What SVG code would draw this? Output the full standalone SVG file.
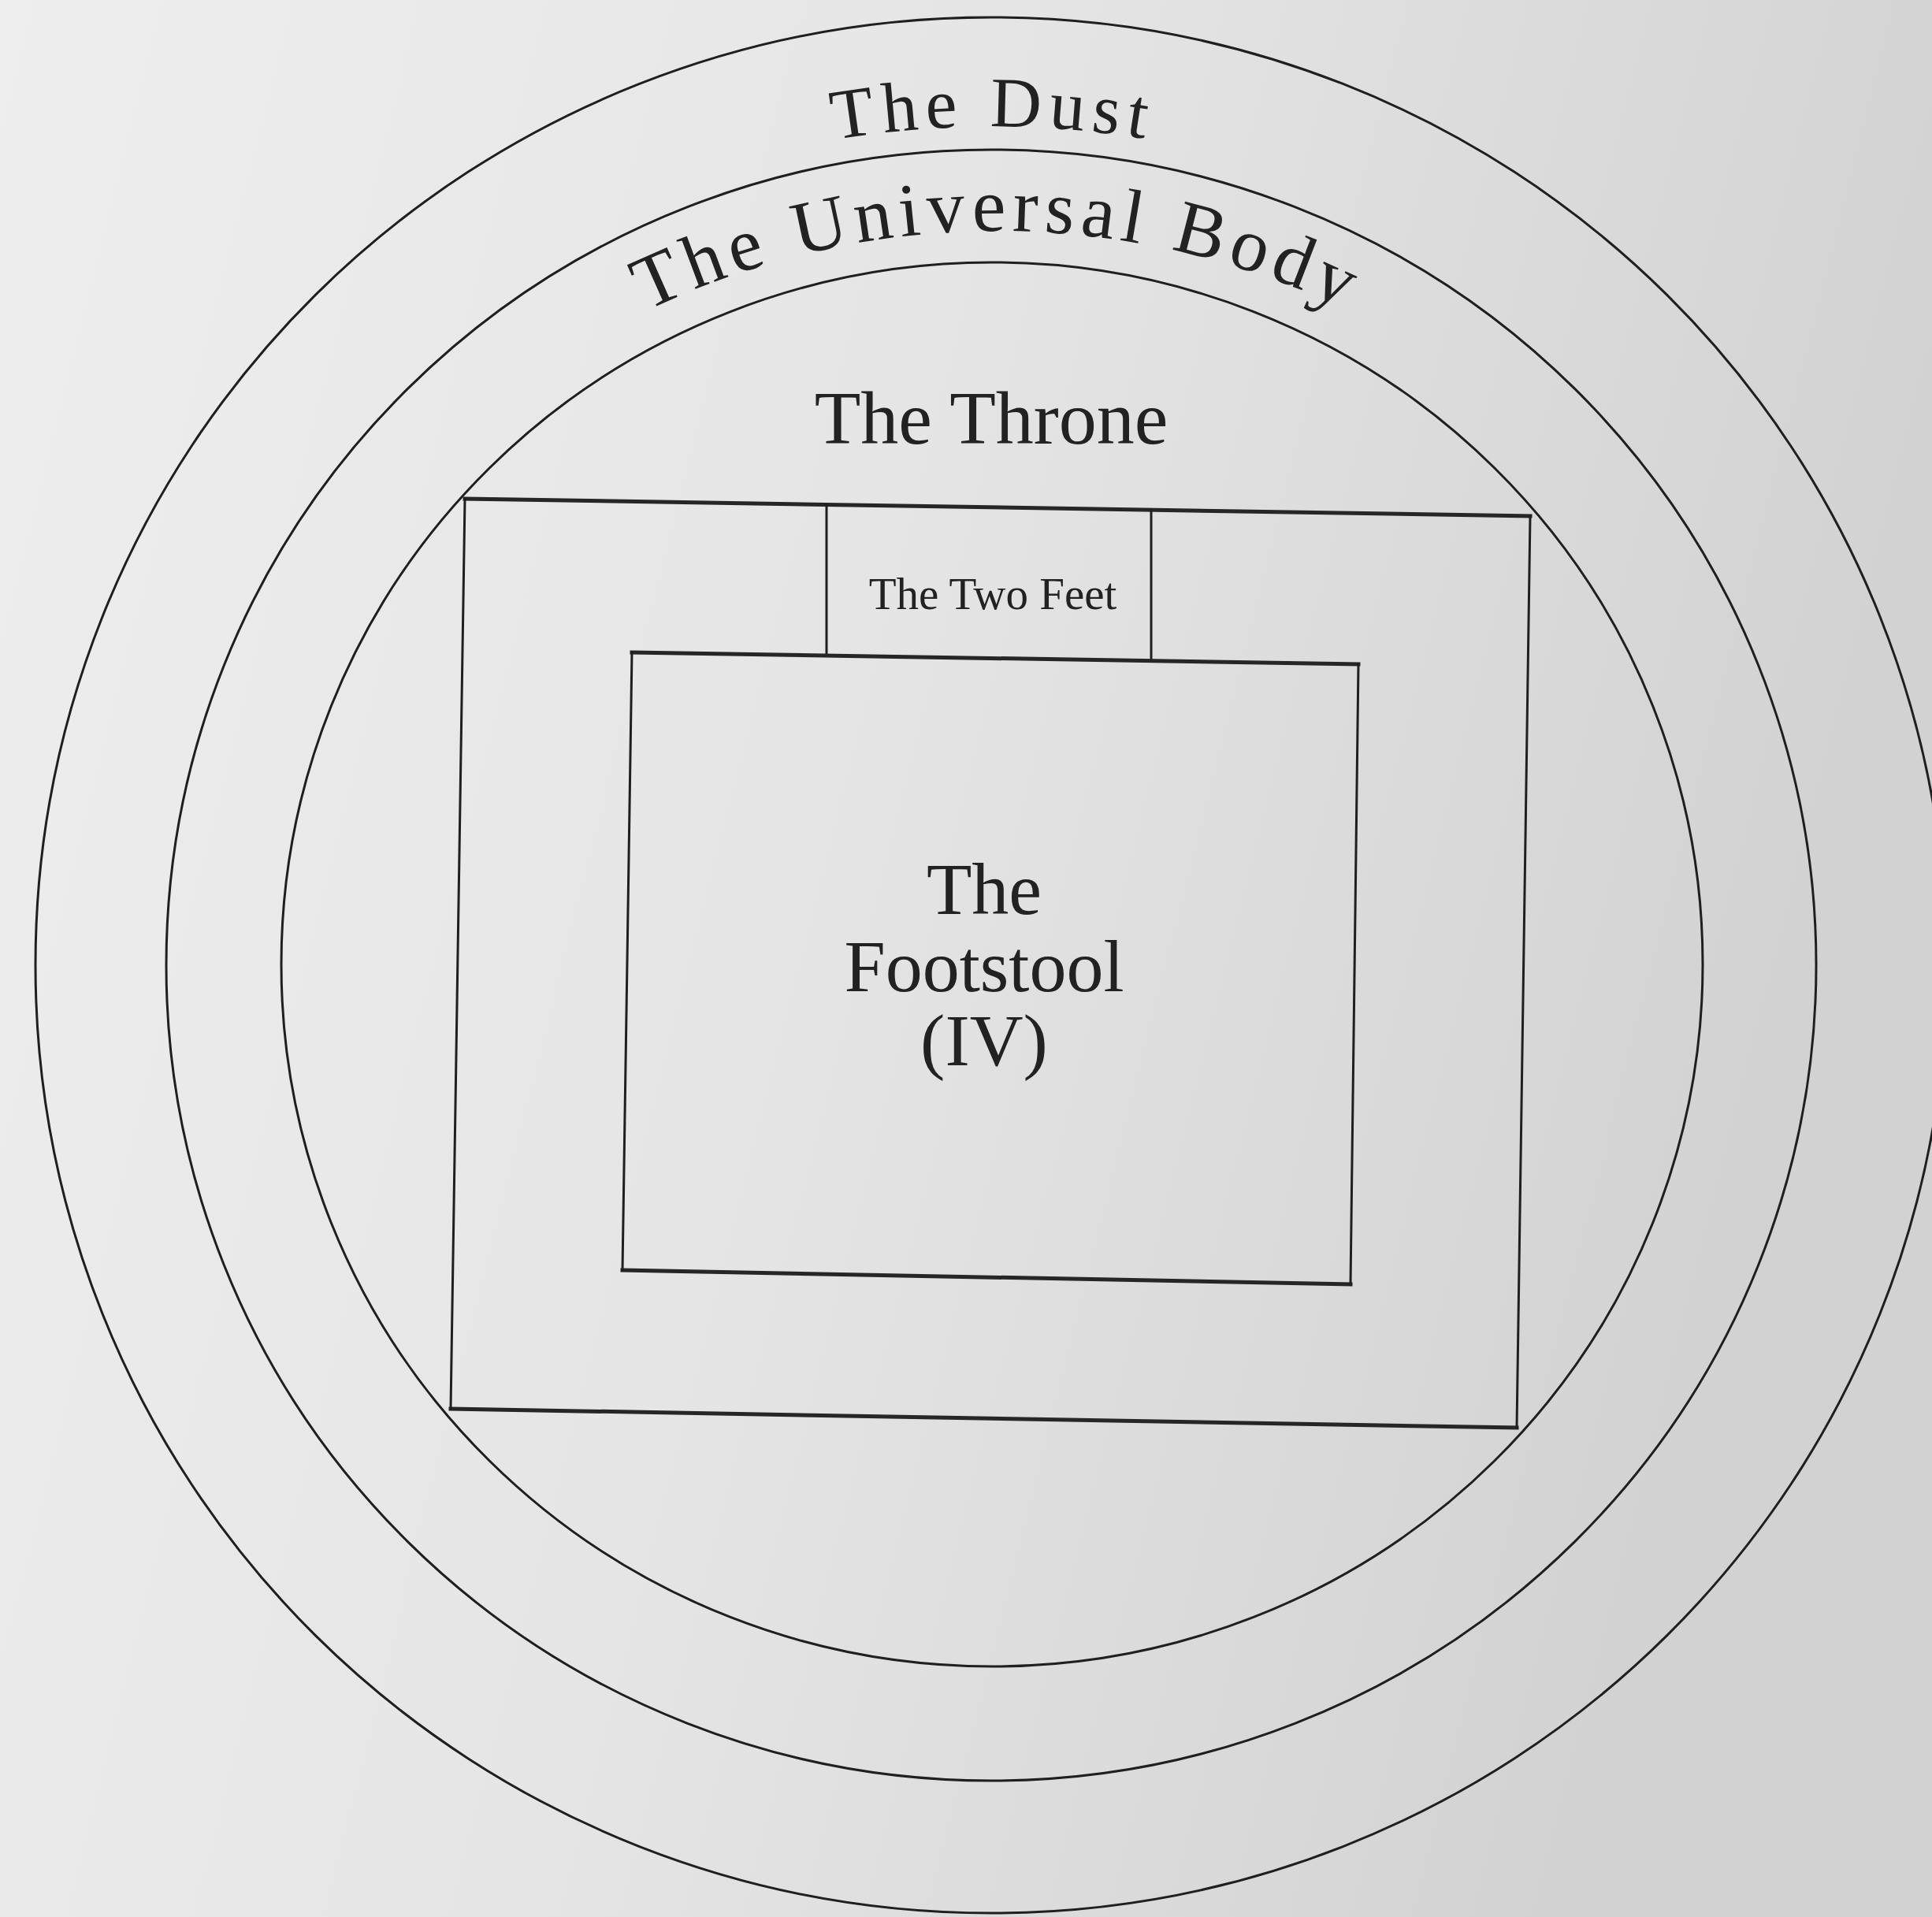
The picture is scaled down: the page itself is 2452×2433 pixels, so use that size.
<svg xmlns="http://www.w3.org/2000/svg" width="2452" height="2433" viewBox="0 0 2452 2433">
  <defs>
    <linearGradient id="paper" x1="0" y1="0" x2="1" y2="0.25">
      <stop offset="0" stop-color="#eeeeee"/>
      <stop offset="0.5" stop-color="#e5e5e5"/>
      <stop offset="1" stop-color="#d2d2d2"/>
    </linearGradient>
    <path id="dustArc" d="M 489 441 A 1200 1200 0 0 1 2031 441"/>
    <path id="bodyArc" d="M 540.5 593.5 A 1026 1026 0 0 1 1991.5 593.5"/>
    <style>
      .ring { fill: none; stroke: #1f1f1f; stroke-width: 3; }
      .hline { fill: none; stroke: #262626; stroke-width: 5; stroke-linecap: square; }
      .vline { fill: none; stroke: #1f1f1f; stroke-width: 3; stroke-linecap: square; }
      .lbl { font-family: "Liberation Serif", "Times New Roman", serif; fill: #222222; text-anchor: middle; }
      .arcLbl { font-family: "Liberation Serif", "Times New Roman", serif; fill: #222222; text-anchor: middle; }
    </style>
  </defs>

  <rect x="0" y="0" width="2452" height="2433" fill="url(#paper)"/>

  <g id="the-dust">
    <ellipse class="ring" cx="1258" cy="1225" rx="1213" ry="1203"/>
    <text class="arcLbl" font-size="90" letter-spacing="9"><textPath href="#dustArc" startOffset="50%">The Dust</textPath></text>
  </g>

  <g id="the-universal-body">
    <ellipse class="ring" cx="1258" cy="1225" rx="1047" ry="1035"/>
    <text class="arcLbl" font-size="96" letter-spacing="8"><textPath href="#bodyArc" startOffset="50%">The Universal Body</textPath></text>
  </g>

  <g id="the-throne">
    <ellipse class="ring" cx="1259" cy="1224" rx="902" ry="891"/>
    <text class="lbl" x="1258" y="563" font-size="96">The Throne</text>
  </g>

  <g id="throne-square">
    <line class="hline" x1="590" y1="633" x2="1942" y2="655"/>
    <line class="hline" x1="572" y1="1788" x2="1925" y2="1812"/>
    <line class="vline" x1="590" y1="633" x2="572" y2="1788"/>
    <line class="vline" x1="1942" y1="655" x2="1925" y2="1812"/>
  </g>

  <g id="the-two-feet">
    <line class="vline" x1="1049" y1="641" x2="1049" y2="832"/>
    <line class="vline" x1="1461" y1="647" x2="1461" y2="839"/>
    <text class="lbl" x="1260" y="773" font-size="57">The Two Feet</text>
  </g>

  <g id="the-footstool">
    <line class="hline" x1="802" y1="828" x2="1724" y2="843"/>
    <line class="hline" x1="790" y1="1612" x2="1714" y2="1630"/>
    <line class="vline" x1="802" y1="828" x2="790" y2="1612"/>
    <line class="vline" x1="1724" y1="843" x2="1714" y2="1630"/>
    <text class="lbl" x="1249" y="1160" font-size="94">The</text>
    <text class="lbl" x="1249" y="1258" font-size="94">Footstool</text>
    <text class="lbl" x="1249" y="1352" font-size="94">(IV)</text>
  </g>

  <g id="connectors"/>
</svg>
